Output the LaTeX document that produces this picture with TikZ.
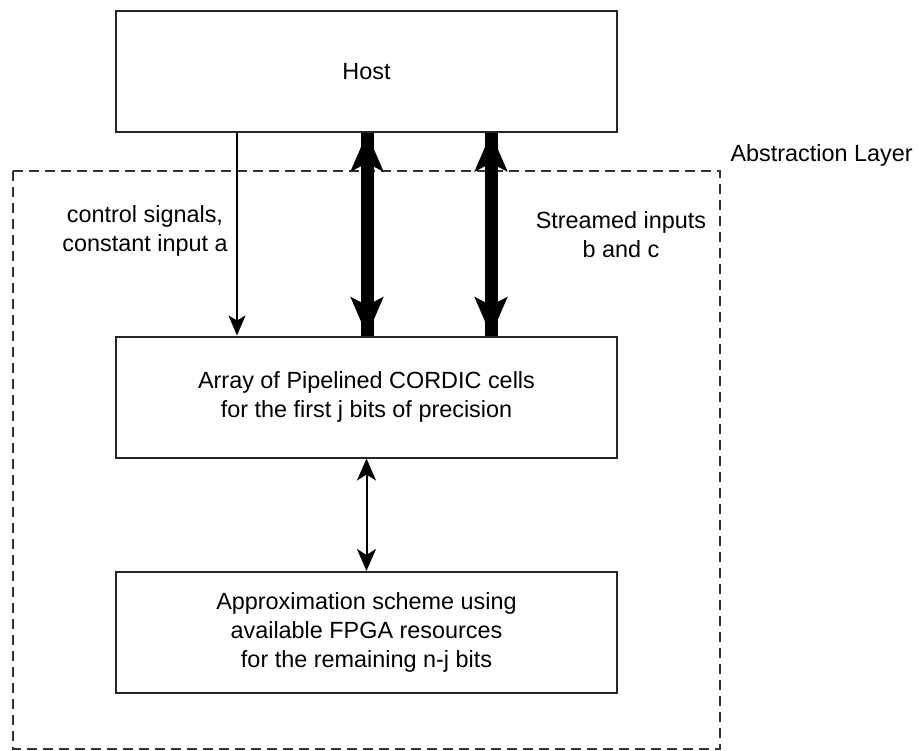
\documentclass[tikz,border=0pt]{standalone}
\usepackage{fontspec}
\setmainfont{Liberation Sans}
\usetikzlibrary{arrows.meta,calc,positioning}

\begin{document}
\begin{tikzpicture}[x=0.5pt,y=-0.5pt,font=\fontsize{11.7}{14.6}\selectfont]
  \tikzset{block/.style={draw=black!85,line width=1pt,minimum width=250.5pt,minimum height=60.5pt,align=center,inner sep=0pt}}
  \tikzset{lbl/.style={align=center,inner sep=0pt}}
  \tikzset{layer/.style={draw=black!80,line width=0.75pt,dash pattern=on 5pt off 3pt}}
  \tikzset{ctrl/.style={draw=black,line width=0.75pt,-{Stealth[length=10pt,width=8.5pt,inset=2.5pt]}}}
  \tikzset{bus/.style={draw=black,line width=6.5pt,{Stealth[length=19pt,width=16pt,inset=4pt]}-{Stealth[length=19pt,width=16pt,inset=4pt]}}}
  \tikzset{shaft/.style={draw=black,line width=6.5pt}}
  \tikzset{link/.style={draw=black,line width=1pt,{Stealth[length=11pt,width=9.5pt,inset=3pt]}-{Stealth[length=11pt,width=9.5pt,inset=3pt]}}}

  \useasboundingbox (0,0) rectangle (918,751);

  % Abstraction layer frame
  \draw[layer] (13,171) rectangle (720,749);
  \node[lbl,anchor=east] (abslbl) at (913,155) {Abstraction Layer};

  % Blocks
  \node[block] (host) at (366.5,71.5) {Host};
  \node[block] (array) at (366.5,397) {Array of Pipelined CORDIC cells\\for the first j bits of precision};
  \node[block] (approx) at (366.5,632.5) {Approximation scheme using\\available FPGA resources\\ for the remaining n-j bits};

  % Connector columns
  \coordinate (cA) at (237,0);
  \coordinate (cB) at (367,0);
  \coordinate (cC) at (491,0);

  \draw[ctrl] (cA |- host.south) -- (cA |- array.north);
  \draw[shaft] (cB |- array.north) -- (cB |- host.south);
  \draw[bus] (cB |- array.north) -- (cB |- host.south);
  \draw[shaft] (cC |- array.north) -- (cC |- host.south);
  \draw[bus] (cC |- array.north) -- (cC |- host.south);
  \draw[link] (array.south) -- (approx.north);

  % Labels
  \node[lbl] (ctrllbl) at (145,231) {control signals,\\constant input a};
  \node[lbl] (streamlbl) at (621,235) {Streamed inputs\\b and c};
\end{tikzpicture}
\end{document}
